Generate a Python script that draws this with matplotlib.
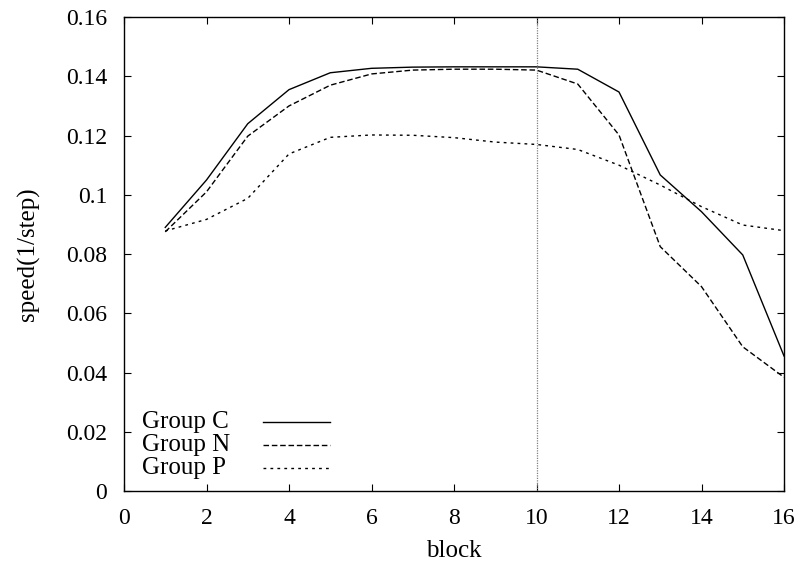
import numpy as np
import matplotlib.pyplot as plt

plt.rcParams['font.family'] = ['Liberation Serif', 'DejaVu Serif']

# data
block = np.arange(1, 17)
group_c = [0.089, 0.105, 0.124, 0.1355, 0.1412, 0.1427, 0.1431, 0.1432, 0.1432, 0.1432,
           0.1424, 0.1347, 0.1067, 0.0943, 0.0797, 0.0456]
group_n = [0.0875, 0.101, 0.1198, 0.13, 0.137, 0.1408, 0.1421, 0.1424, 0.1424, 0.1421,
           0.1374, 0.1202, 0.0825, 0.069, 0.0487, 0.0384]
group_p = [0.0878, 0.0917, 0.0988, 0.1138, 0.1194, 0.1202, 0.1201, 0.1193, 0.1178, 0.117,
           0.1153, 0.110, 0.1033, 0.096, 0.0898, 0.0879]
labels = ['Group C', 'Group N', 'Group P']
styles = ['-', (0, (4, 2)), (0, (2, 3))]

fig = plt.figure(figsize=(8, 5.69), dpi=100)
ax = fig.add_axes([0.155, 0.137, 0.825, 0.833])

for ys, ls in zip([group_c, group_n, group_p], styles):
    ax.plot(block, ys, color='black', lw=1.0, linestyle=ls)

# vertical marker at block 10
ax.axvline(10, color='gray', lw=0.9, linestyle=(0, (1, 1)))

ax.set_xlim(0, 16)
ax.set_ylim(0, 0.16)
ax.set_xticks(np.arange(0, 17, 2))
ax.set_yticks(np.arange(0, 0.161, 0.02))
ax.set_yticklabels(['0', '0.02', '0.04', '0.06', '0.08', '0.1', '0.12', '0.14', '0.16'])
ax.tick_params(direction='in', top=True, right=True, labelsize=17, length=5, pad=12)
for s in ax.spines.values():
    s.set_linewidth(1.0)

ax.set_xlabel('block', fontsize=18, labelpad=8)
ax.set_ylabel('speed(1/step)', fontsize=18, labelpad=19)

# gnuplot-style key: text left, sample line to the right
key_y = [0.1456, 0.097, 0.0485]
for lab, ls, ky in zip(labels, styles, key_y):
    ax.text(0.0273, ky, lab, transform=ax.transAxes, fontsize=18,
            ha='left', va='center')
    ax.plot([0.2106, 0.312], [ky, ky], transform=ax.transAxes,
            color='black', lw=1.0, linestyle=ls)

plt.savefig('out.png', dpi=100)
